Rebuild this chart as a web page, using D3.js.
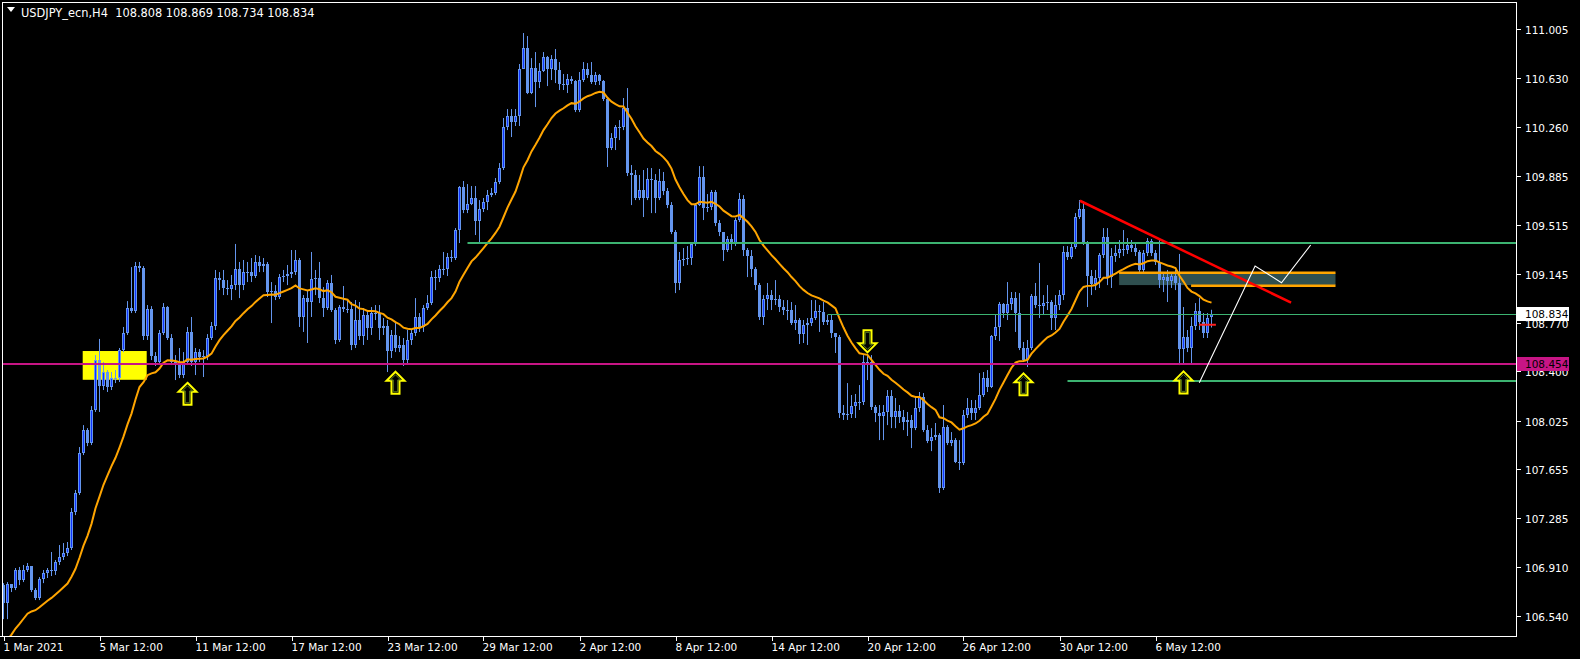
<!DOCTYPE html>
<html><head><meta charset="utf-8">
<script src="https://cdn.jsdelivr.net/npm/d3@7"></script>
<style>html,body{margin:0;padding:0;background:#000;overflow:hidden}svg{display:block}</style>
</head><body>
<svg id="c" width="1580" height="659"></svg>
<script>
// ---------------- data ----------------
const symbol = "USDJPY_ecn,H4";
const quote = ["108.808", "108.869", "108.734", "108.834"];
const firstOpen = 106.773;
const closes = [
106.636,106.781,106.750,106.888,106.811,106.888,106.918,106.735,106.674,106.819,
106.865,106.888,106.880,106.949,106.987,107.017,107.055,107.329,107.474,107.778,
107.953,107.854,108.106,108.486,108.288,108.395,108.281,108.349,108.349,108.562,
108.692,108.882,108.859,109.202,109.187,108.669,108.875,108.517,108.471,108.692,
108.890,108.654,108.471,108.448,108.372,108.471,108.700,108.471,108.547,108.509,
108.517,108.654,108.745,109.111,109.095,109.035,109.027,109.057,109.179,109.057,
109.156,109.156,109.126,109.233,109.202,109.217,109.004,109.012,108.966,109.118,
109.126,109.141,109.156,109.248,108.814,108.958,108.928,109.103,109.111,108.958,
108.882,109.073,108.867,108.639,108.890,108.875,108.875,108.601,108.791,108.669,
108.829,108.730,108.844,108.844,108.730,108.745,108.555,108.677,108.578,108.601,
108.486,108.639,108.692,108.814,108.738,108.882,108.920,109.118,109.111,109.179,
109.179,109.271,109.263,109.476,109.804,109.628,109.674,109.720,109.545,109.636,
109.689,109.742,109.758,109.841,109.948,110.260,110.344,110.298,110.344,110.702,
110.862,110.519,110.709,110.603,110.686,110.793,110.702,110.778,110.694,110.588,
110.580,110.626,110.610,110.390,110.618,110.702,110.656,110.603,110.656,110.610,
110.473,110.100,110.176,110.260,110.260,110.405,109.910,109.895,109.720,109.781,
109.720,109.864,109.857,109.720,109.849,109.773,109.666,109.461,109.073,109.248,
109.256,109.263,109.370,109.666,109.880,109.643,109.651,109.765,109.529,109.461,
109.324,109.408,109.377,109.552,109.712,109.324,109.278,109.179,109.057,108.814,
108.951,108.981,108.943,108.951,108.890,108.867,108.867,108.768,108.791,108.684,
108.753,108.768,108.806,108.859,108.852,108.776,108.791,108.692,108.662,108.083,
108.068,108.075,108.136,108.167,108.167,108.471,108.471,108.129,108.083,108.060,
108.091,108.212,108.052,108.098,108.052,108.014,108.030,107.968,108.121,108.205,
107.953,107.870,107.900,107.915,107.512,107.976,107.854,107.877,107.710,107.702,
108.068,108.121,108.083,108.121,108.220,108.349,108.281,108.669,108.738,108.913,
108.844,108.913,108.958,108.844,108.578,108.486,108.578,108.974,108.905,108.897,
108.920,108.928,108.806,108.905,108.981,109.309,109.271,109.347,109.575,109.636,
109.377,109.126,109.065,109.111,109.286,109.423,109.118,109.278,109.301,109.332,
109.324,109.362,109.339,109.309,109.172,109.301,109.392,109.301,109.233,109.095,
109.118,109.088,109.126,109.073,108.570,108.662,108.578,108.745,108.859,108.776,
108.692,108.808,108.834];
const highs = [
106.788,106.796,106.781,106.903,106.911,106.926,106.941,106.918,106.750,106.834,
106.888,106.903,107.025,106.964,107.078,107.093,107.101,107.360,107.497,107.824,
107.991,107.968,108.136,108.524,108.647,108.471,108.410,108.395,108.410,108.578,
108.738,108.935,109.194,109.233,109.233,109.202,108.905,108.897,108.547,108.715,
108.920,108.897,108.684,108.524,108.578,108.547,108.738,108.814,108.578,108.570,
108.562,108.684,108.776,109.172,109.156,109.172,109.095,109.134,109.370,109.233,
109.248,109.233,109.263,109.286,109.278,109.263,109.233,109.080,109.057,109.141,
109.172,109.210,109.324,109.324,109.263,108.981,109.019,109.309,109.172,109.233,
109.042,109.095,109.134,108.882,108.905,109.050,108.943,108.928,108.943,108.928,
108.882,108.867,108.890,108.905,108.905,108.806,108.791,108.715,108.768,108.669,
108.654,108.715,108.715,108.958,108.844,108.905,108.981,109.164,109.172,109.210,
109.309,109.301,109.324,109.491,109.811,109.849,109.826,109.811,109.811,109.704,
109.720,109.781,109.796,109.872,109.986,110.329,110.397,110.397,110.397,110.740,
110.976,110.953,110.785,110.831,110.747,110.831,110.801,110.808,110.854,110.755,
110.664,110.664,110.648,110.618,110.679,110.755,110.747,110.755,110.679,110.664,
110.618,110.489,110.214,110.275,110.313,110.481,110.557,109.971,109.933,109.895,
109.933,109.948,109.948,109.902,109.941,109.918,109.796,109.689,109.476,109.309,
109.339,109.354,109.385,109.682,109.963,109.963,109.750,109.781,109.781,109.552,
109.461,109.430,109.445,109.567,109.758,109.742,109.339,109.324,109.194,109.073,
108.981,109.073,109.019,109.095,108.981,108.943,108.943,108.928,108.905,108.806,
108.791,108.806,108.943,108.943,108.905,108.928,108.829,108.829,108.692,108.677,
108.144,108.311,108.220,108.228,108.296,108.524,108.524,108.524,108.144,108.144,
108.144,108.258,108.258,108.197,108.144,108.106,108.091,108.068,108.197,108.243,
108.235,107.991,107.968,108.007,107.930,108.144,107.991,107.938,107.892,107.877,
108.106,108.197,108.182,108.182,108.387,108.395,108.410,108.677,108.829,108.928,
108.920,109.080,109.004,109.004,108.996,108.624,108.639,108.989,109.073,109.225,
108.981,109.057,108.943,108.981,109.019,109.354,109.354,109.370,109.605,109.704,
109.697,109.392,109.172,109.172,109.301,109.491,109.491,109.339,109.362,109.400,
109.476,109.415,109.400,109.377,109.324,109.324,109.415,109.408,109.324,109.408,
109.156,109.172,109.156,109.172,109.294,108.890,108.715,108.814,108.920,108.958,
108.844,108.844,108.869];
const lows = [
106.514,106.514,106.720,106.735,106.773,106.796,106.873,106.720,106.659,106.659,
106.788,106.827,106.842,106.850,106.926,106.964,106.994,107.040,107.306,107.459,
107.763,107.831,107.839,108.091,108.091,108.258,108.243,108.258,108.311,108.319,
108.547,108.677,108.844,108.844,109.156,108.639,108.639,108.486,108.441,108.448,
108.677,108.639,108.448,108.334,108.349,108.349,108.448,108.441,108.372,108.471,
108.357,108.486,108.639,108.715,109.019,108.981,108.981,108.943,109.019,108.958,
109.019,109.080,109.080,109.111,109.156,109.156,108.966,108.768,108.943,108.951,
109.080,109.057,109.111,109.134,108.738,108.700,108.616,108.814,108.981,108.920,
108.814,108.867,108.852,108.608,108.624,108.852,108.844,108.562,108.578,108.639,
108.601,108.639,108.677,108.791,108.639,108.677,108.395,108.502,108.547,108.547,
108.441,108.456,108.601,108.669,108.700,108.700,108.867,108.905,109.019,109.080,
109.134,109.126,109.233,109.248,109.377,109.605,109.605,109.666,109.438,109.377,
109.613,109.628,109.727,109.742,109.826,109.933,110.237,110.184,110.268,110.268,
110.740,110.511,110.511,110.412,110.557,110.679,110.572,110.618,110.595,110.542,
110.542,110.519,110.588,110.374,110.374,110.603,110.633,110.588,110.580,110.580,
110.458,109.956,110.085,110.085,110.161,110.237,109.887,109.666,109.704,109.704,
109.575,109.704,109.605,109.605,109.704,109.742,109.643,109.445,108.996,109.019,
109.202,109.210,109.210,109.354,109.659,109.552,109.613,109.628,109.506,109.430,
109.240,109.309,109.324,109.354,109.537,109.278,109.118,109.118,109.019,108.791,
108.753,108.867,108.867,108.905,108.852,108.829,108.791,108.753,108.715,108.608,
108.616,108.601,108.745,108.791,108.700,108.753,108.753,108.654,108.540,108.045,
108.030,108.030,108.045,108.045,108.106,108.144,108.334,108.106,108.014,107.877,
107.877,107.991,107.968,107.968,108.007,107.953,107.908,107.816,107.953,108.091,
107.938,107.854,107.793,107.877,107.474,107.497,107.839,107.831,107.702,107.649,
107.687,108.045,108.030,108.030,108.106,108.205,108.243,108.273,108.639,108.631,
108.806,108.791,108.867,108.700,108.562,108.471,108.433,108.562,108.882,108.806,
108.829,108.867,108.715,108.715,108.867,108.943,109.248,109.256,109.332,109.560,
109.362,108.890,108.981,109.019,109.035,109.263,109.057,109.035,109.233,109.263,
109.278,109.294,109.309,109.278,109.149,109.149,109.278,109.278,109.210,109.035,
109.004,108.928,109.035,109.019,108.448,108.463,108.547,108.463,108.715,108.715,
108.654,108.654,108.734];

const timeLabels = ["1 Mar 2021","5 Mar 12:00","11 Mar 12:00","17 Mar 12:00","23 Mar 12:00","29 Mar 12:00","2 Apr 12:00","8 Apr 12:00","14 Apr 12:00","20 Apr 12:00","26 Apr 12:00","30 Apr 12:00","6 May 12:00"];
const timeLabelBars = [0,24,48,72,96,120,144,168,192,216,240,264,288];
const priceTicks = [111.005,110.630,110.260,109.885,109.515,109.145,108.770,108.400,108.025,107.655,107.285,106.910,106.540];

const maPeriod = 20;
const maSeed = 106.28;

// drawn objects (bar index, price)
const hLines = [
  {price: 109.379, from: 116, color: "#3cb371", w: 2},
  {price: 108.840, from: 206, color: "#3cb371", w: 1},
  {price: 108.454, from: -2, color: "#c71585", w: 2},
  {price: 108.329, from: 266, color: "#3cb371", w: 2}
];
const trendLine = [[269.1, 109.699], [321.9, 108.923]];
const zigzag = [[298.95, 108.313], [312.9, 109.202], [319.5, 109.075], [326.8, 109.362]];
const yellowZone = {b0: 19.8, b1: 35.8, p0: 108.555, p1: 108.336};
const slateZone = {b0: 278.9, b1: 333.0, p0: 109.146, p1: 109.057};
const orangeLevels = [{price: 109.151, b0: 278.9, b1: 333.0}, {price: 109.052, b0: 296.9, b1: 333.0}];
const arrowsUp = [{bar: 46, price: 108.313}, {bar: 98, price: 108.397}, {bar: 255, price: 108.385}, {bar: 295, price: 108.400}];
const arrowsDown = [{bar: 216, price: 108.545}];
const redMark = {price: 108.755, b0: 298.9, b1: 303.1};
const bidPrice = 108.834;
const levelPrice = 108.454;

// ---------------- chart ----------------
const W = 1580, H = 659;
const plotL = 2, plotR = 1516, plotT = 2, plotB = 636;
const FONT = "DejaVu Sans, Verdana, sans-serif";
const svg = d3.select("#c");
svg.append("rect").attr("width", W).attr("height", H).attr("fill", "#000");

const x = d3.scaleLinear().domain([0, 302]).range([3.5, 1211.5]);
const y = d3.scaleLinear().domain([106.540, 111.005]).range([615.7, 29.2]);

svg.append("defs").append("clipPath").attr("id", "plotclip")
  .append("rect").attr("x", plotL).attr("y", plotT).attr("width", plotR - plotL).attr("height", plotB - plotT);
const g = svg.append("g").attr("clip-path", "url(#plotclip)");

const bars = closes.map((c, i) => ({i, o: i ? closes[i - 1] : firstOpen, h: highs[i], l: lows[i], c}));

// background zones
g.append("rect")
  .attr("x", x(yellowZone.b0)).attr("width", x(yellowZone.b1) - x(yellowZone.b0))
  .attr("y", y(yellowZone.p0)).attr("height", y(yellowZone.p1) - y(yellowZone.p0))
  .attr("fill", "#ffff00");
g.append("rect")
  .attr("x", x(slateZone.b0)).attr("width", x(slateZone.b1) - x(slateZone.b0))
  .attr("y", y(slateZone.p0)).attr("height", y(slateZone.p1) - y(slateZone.p0))
  .attr("fill", "#2f4f4f");

// candles
const BEAR = "#6495ed", BULL_IN = "#1034ff";
const cg = g.append("g");
cg.selectAll("line.wick").data(bars).join("line").attr("class", "wick")
  .attr("x1", d => x(d.i)).attr("x2", d => x(d.i))
  .attr("y1", d => y(d.h)).attr("y2", d => y(d.l))
  .attr("stroke", BEAR).attr("stroke-width", 1);
cg.selectAll("rect.body").data(bars).join("rect").attr("class", "body")
  .attr("x", d => x(d.i) - 1.5).attr("width", 3)
  .attr("y", d => Math.round(y(Math.max(d.o, d.c))))
  .attr("height", d => Math.max(1, Math.round(Math.abs(y(d.o) - y(d.c)))))
  .attr("fill", BEAR);
cg.selectAll("rect.inner").data(bars.filter(d => d.c > d.o && Math.abs(y(d.o) - y(d.c)) > 2.5)).join("rect").attr("class", "inner")
  .attr("x", d => x(d.i) - 0.5).attr("width", 1)
  .attr("y", d => Math.round(y(d.c)) + 1)
  .attr("height", d => Math.max(0, Math.round(Math.abs(y(d.o) - y(d.c))) - 2))
  .attr("fill", BULL_IN);

// moving average (EMA of closes)
const k = 2 / (maPeriod + 1);
let ema = maSeed;
const ma = closes.map((c, i) => { ema = ema + k * (c - ema); return [i, ema]; });
g.append("path").datum(ma)
  .attr("d", d3.line().x(d => x(d[0])).y(d => y(d[1])))
  .attr("fill", "none").attr("stroke", "#ffa500").attr("stroke-width", 2);

// horizontal lines
g.selectAll("line.hl").data(hLines).join("line").attr("class", "hl")
  .attr("x1", d => x(d.from)).attr("x2", plotR)
  .attr("y1", d => Math.round(y(d.price)) + (d.w === 1 ? 0.5 : 0))
  .attr("y2", d => Math.round(y(d.price)) + (d.w === 1 ? 0.5 : 0))
  .attr("stroke", d => d.color).attr("stroke-width", d => d.w);

// red marker
g.append("line").attr("x1", x(redMark.b0)).attr("x2", x(redMark.b1))
  .attr("y1", y(redMark.price)).attr("y2", y(redMark.price))
  .attr("stroke", "#ff2020").attr("stroke-width", 2);

// orange levels
g.selectAll("line.ol").data(orangeLevels).join("line").attr("class", "ol")
  .attr("x1", d => x(d.b0)).attr("x2", d => x(d.b1))
  .attr("y1", d => y(d.price)).attr("y2", d => y(d.price))
  .attr("stroke", "#ffa500").attr("stroke-width", 2.5);

// trend line
g.append("line")
  .attr("x1", x(trendLine[0][0])).attr("y1", y(trendLine[0][1]))
  .attr("x2", x(trendLine[1][0])).attr("y2", y(trendLine[1][1]))
  .attr("stroke", "#ff0000").attr("stroke-width", 2.5);

// projected path
g.append("path").datum(zigzag)
  .attr("d", d3.line().x(d => x(d[0])).y(d => y(d[1])))
  .attr("fill", "none").attr("stroke", "#ffffff").attr("stroke-width", 1.1);

// arrows
function arrowPts(cx, tip, dir, s) {
  const hw = 9 * s, sw = 4 * s, hh = 9, len = 22;
  const pts = [[0, 0], [hw, hh], [sw, hh], [sw, len], [-sw, len], [-sw, hh], [-hw, hh]];
  return pts.map(p => [cx + p[0], tip + dir * p[1]]);
}
function drawArrow(cx, tip, dir) {
  g.append("polygon").attr("points", arrowPts(cx, tip, dir, 1).map(p => p.join(",")).join(" "))
    .attr("fill", "#000").attr("stroke", "#ffff00").attr("stroke-width", 2).attr("stroke-linejoin", "miter");
  const inner = [[0, 3], [5.2, 8.2], [2.2, 8.2], [2.2, 20], [-2.2, 20], [-2.2, 8.2], [-5.2, 8.2]]
    .map(p => [cx + p[0], tip + dir * p[1]]);
  g.append("polygon").attr("points", inner.map(p => p.join(",")).join(" "))
    .attr("fill", "none").attr("stroke", "#5a7d1a").attr("stroke-width", 1);
}
arrowsUp.forEach(a => drawArrow(x(a.bar), y(a.price), 1));
arrowsDown.forEach(a => drawArrow(x(a.bar), y(a.price), -1));

// frame
svg.append("line").attr("x1", plotR + 0.5).attr("x2", plotR + 0.5).attr("y1", plotT).attr("y2", plotB + 1).attr("stroke", "#fff");
svg.append("line").attr("x1", 0).attr("x2", plotR + 1).attr("y1", plotB + 0.5).attr("y2", plotB + 0.5).attr("stroke", "#fff");
svg.append("line").attr("x1", plotL + 0.5).attr("x2", plotL + 0.5).attr("y1", plotT).attr("y2", plotB + 1).attr("stroke", "#fff");
svg.append("line").attr("x1", plotL).attr("x2", plotR + 1).attr("y1", plotT + 0.5).attr("y2", plotT + 0.5).attr("stroke", "#fff");

// price axis
const ya = svg.append("g");
priceTicks.forEach(v => {
  const yy = Math.round(y(v)) + 0.5;
  ya.append("line").attr("x1", plotR + 1).attr("x2", plotR + 5).attr("y1", yy).attr("y2", yy).attr("stroke", "#fff");
  ya.append("text").attr("x", plotR + 9).attr("y", yy + 4).text(v.toFixed(3))
    .attr("fill", "#fff").attr("font-family", FONT).attr("font-size", 10.5);
});
function priceBox(v, bg) {
  const yy = Math.round(y(v));
  ya.append("rect").attr("x", plotR + 1).attr("y", yy - 7).attr("width", 52).attr("height", 14).attr("fill", bg);
  ya.append("text").attr("x", plotR + 9).attr("y", yy + 4).text(v.toFixed(3))
    .attr("fill", "#000").attr("font-family", FONT).attr("font-size", 10.5);
}
priceBox(bidPrice, "#ffffff");
priceBox(levelPrice, "#c71585");

// time axis
const xa = svg.append("g");
timeLabelBars.forEach((b, j) => {
  const xx = Math.round(x(b)) + 0.5;
  xa.append("line").attr("x1", xx).attr("x2", xx).attr("y1", plotB + 1).attr("y2", plotB + 5).attr("stroke", "#fff");
  xa.append("text").attr("x", xx - 1).attr("y", 651).text(timeLabels[j])
    .attr("fill", "#fff").attr("font-family", FONT).attr("font-size", 10.5);
});

// header
svg.append("polygon").attr("points", "7,7 15,7 11,12").attr("fill", "#fff");
svg.append("text").attr("x", 21).attr("y", 16.5).attr("xml:space", "preserve").style("white-space", "pre")
  .text(symbol + "  " + quote.join(" "))
  .attr("fill", "#fff").attr("font-family", FONT).attr("font-size", 11.4);
</script>
</body></html>
